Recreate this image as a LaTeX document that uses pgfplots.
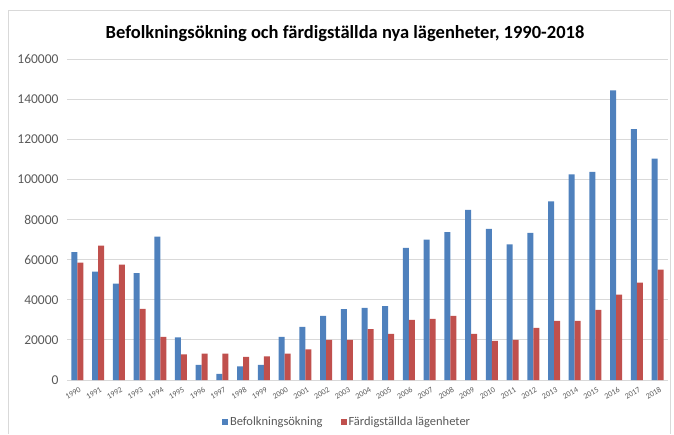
\documentclass[border=0pt]{standalone}
\usepackage{pgfplots}
\pgfplotsset{compat=1.18}
\usepackage{fontspec}
\setmainfont{Carlito}
\definecolor{cblue}{HTML}{4F81BD}
\definecolor{cred}{HTML}{C0504D}
\definecolor{cgrid}{HTML}{D9D9D9}
\definecolor{ctext}{HTML}{595959}
\begin{document}
\begin{tikzpicture}
\useasboundingbox (0pt,0pt) rectangle (674pt,434pt);
\draw[cgrid, line width=0.8pt] (8pt,0pt) -- (8pt,424pt) -- (670pt,424pt) -- (670pt,0pt);
\node[font=\fontsize{18.5}{22}\selectfont\bfseries] at (345pt,400pt) {Befolkningsökning och färdigställda nya lägenheter, 1990-2018};
\begin{axis}[
  at={(67pt,54pt)}, anchor=south west,
  scale only axis, width=601pt, height=321pt,
  ybar=0pt, bar width=6pt,
  xmin=-0.5, xmax=28.5, ymin=0, ymax=160000,
  ytick={0,20000,...,160000},
  xtick={0,...,28},
  xticklabels={1990,1991,1992,1993,1994,1995,1996,1997,1998,1999,2000,2001,2002,2003,2004,2005,2006,2007,2008,2009,2010,2011,2012,2013,2014,2015,2016,2017,2018},
  x tick label style={rotate=30, anchor=north east, font=\fontsize{8}{9}\selectfont, text=ctext, inner sep=0pt, yshift=-3pt},
  y tick label style={font=\fontsize{13.5}{15}\selectfont, text=ctext, xshift=-5pt},
  /pgf/number format/assume math mode=true,
  scaled y ticks=false,
  yticklabel={\pgfmathprintnumber[fixed,1000 sep={}]{\tick}},
  ymajorgrids, grid style={cgrid, line width=0.8pt},
  axis line style={draw=none},
  tick style={draw=none},
  legend style={at={(0.466,-0.13)}, anchor=center, draw=none, legend columns=2,
    font=\fontsize{12.5}{14}\selectfont, text=ctext,
    /tikz/every even column/.append style={column sep=16pt}},
  legend image code/.code={\fill[#1] (1pt,-3pt) rectangle (7pt,3pt);},
]
\addplot[fill=cblue, draw=none] coordinates {
(0,63800) (1,54000) (2,48000) (3,53300) (4,71500) (5,21300) (6,7500) (7,3000) (8,6800) (9,7500)
(10,21500) (11,26500) (12,32000) (13,35300) (14,36000) (15,36800) (16,65800) (17,70000) (18,73700) (19,84800)
(20,75300) (21,67600) (22,73300) (23,89000) (24,102500) (25,103800) (26,144300) (27,125000) (28,110300)};
\addplot[fill=cred, draw=none] coordinates {
(0,58500) (1,67000) (2,57500) (3,35500) (4,21500) (5,12800) (6,13200) (7,13200) (8,11500) (9,11800)
(10,13200) (11,15300) (12,20000) (13,20000) (14,25300) (15,23000) (16,30000) (17,30500) (18,32000) (19,23000)
(20,19500) (21,20000) (22,26000) (23,29500) (24,29500) (25,35000) (26,42500) (27,48500) (28,55000)};
\legend{Befolkningsökning, Färdigställda lägenheter}
\end{axis}
\end{tikzpicture}
\end{document}
